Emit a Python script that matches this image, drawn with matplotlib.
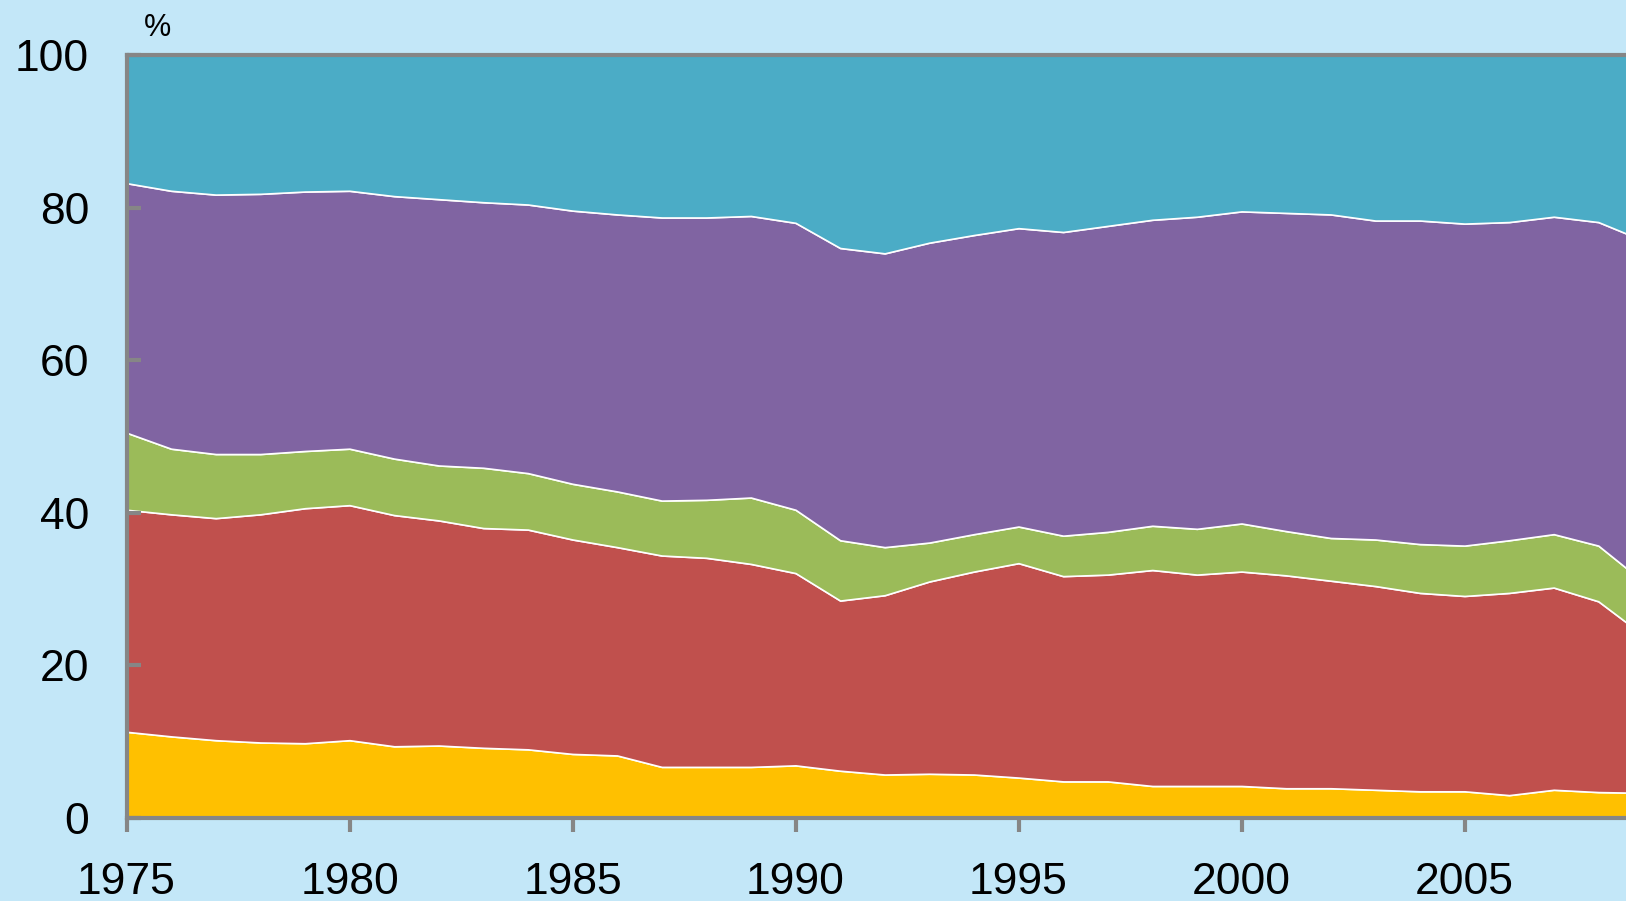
import matplotlib
matplotlib.use("Agg")
import matplotlib.pyplot as plt
import numpy as np

years = list(range(1975, 2010))

yellow = [11.3, 10.7, 10.2, 9.9, 9.8, 10.2, 9.4, 9.5, 9.2, 9.0, 8.4, 8.2, 6.7, 6.7, 6.7, 6.9, 6.2,
          5.7, 5.8, 5.7, 5.3, 4.8, 4.8, 4.2, 4.2, 4.2, 3.9, 3.9, 3.7, 3.5, 3.5, 3.0, 3.7, 3.4, 3.3]
red = [29.1, 29.1, 29.1, 29.9, 30.8, 30.8, 30.3, 29.5, 28.8, 28.8, 28.1, 27.3, 27.7, 27.4, 26.6, 25.2,
       22.3, 23.5, 25.2, 26.6, 28.1, 26.9, 27.1, 28.3, 27.7, 28.1, 27.9, 27.2, 26.7, 26.0, 25.6, 26.5,
       26.5, 25.0, 20.7]
green = [10.1, 8.6, 8.4, 7.9, 7.5, 7.4, 7.4, 7.2, 7.9, 7.4, 7.3, 7.3, 7.2, 7.6, 8.7, 8.3, 7.9, 6.3,
         5.1, 4.9, 4.8, 5.3, 5.6, 5.8, 6.0, 6.3, 5.8, 5.6, 6.1, 6.4, 6.6, 6.9, 7.0, 7.3, 7.0]
purple = [32.7, 33.8, 34.0, 34.1, 34.0, 33.8, 34.4, 34.9, 34.8, 35.2, 35.8, 36.3, 37.1, 37.0, 36.9,
          37.6, 38.3, 38.5, 39.3, 39.2, 39.1, 39.8, 40.1, 40.1, 40.9, 40.9, 41.7, 42.4, 41.8, 42.4,
          42.2, 41.7, 41.6, 42.4, 44.7]
teal = [16.8, 17.8, 18.3, 18.2, 17.9, 17.8, 18.5, 18.9, 19.3, 19.6, 20.4, 20.9, 21.3, 21.3, 21.1,
        22.0, 25.3, 26.0, 24.6, 23.6, 22.7, 23.2, 22.4, 21.6, 21.2, 20.5, 20.7, 20.9, 21.7, 21.7,
        22.1, 21.9, 21.2, 21.9, 24.3]

xticks = [1975, 1980, 1985, 1990, 1995, 2000, 2005]
yticks = [0, 20, 40, 60, 80, 100]

colors = ["#FFC000", "#C0504D", "#9BBB59", "#8064A2", "#4BACC6"]
bg = "#C3E7F8"
spine_col = "#868686"

plt.rcParams['font.family'] = ['Liberation Sans', 'DejaVu Sans']

fig = plt.figure(figsize=(16.26, 9.01), dpi=100, facecolor=bg)
ax = fig.add_axes([0.0778, 0.0921, 1 - 0.0778, 0.939 - 0.0921])
ax.set_facecolor(bg)

ax.stackplot(years, yellow, red, green, purple, teal, colors=colors,
             edgecolor="white", linewidth=1.2)

ax.set_xlim(1975, 2008.62)
ax.set_ylim(0, 100)
ax.set_xticks(xticks)
ax.set_yticks(yticks)
ax.tick_params(axis='y', direction='in', length=10, width=3, color=spine_col,
               labelsize=32, pad=27)
ax.tick_params(axis='x', direction='out', length=10, width=3, color=spine_col,
               labelsize=32, pad=22)
for s in ['left', 'bottom', 'top']:
    ax.spines[s].set_color(spine_col)
    ax.spines[s].set_linewidth(3)
ax.spines['right'].set_visible(False)

fig.text(0.0966, 0.969, "%", fontsize=22, ha='center', va='center')

fig.savefig("out.png", dpi=100, facecolor=bg)
